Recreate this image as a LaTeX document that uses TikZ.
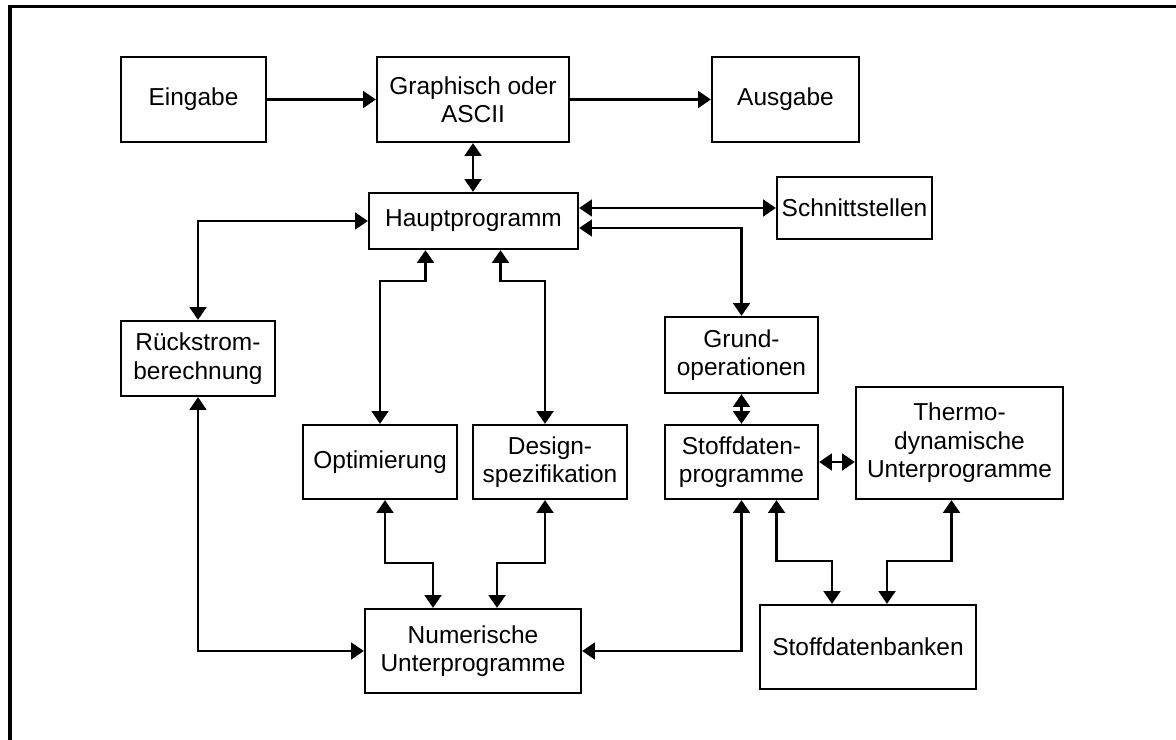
\documentclass[tikz,border=0pt]{standalone}
\usepackage{fontspec}
\setmainfont{Liberation Sans}
\usepackage{tikz}
\usetikzlibrary{positioning,calc,arrows.meta}

\begin{document}
\begin{tikzpicture}[x=0.025cm, y=-0.025cm,
    box/.style={draw, line width=1.6pt, align=center, inner sep=0pt,
      font=\fontsize{17.4}{20.2}\selectfont},
    link/.style={line width=1.8pt,
      {Triangle[length=3.2mm,width=4.2mm]}-{Triangle[length=3.2mm,width=4.2mm]}},
    onelink/.style={line width=1.8pt, -{Triangle[length=3.2mm,width=4.2mm]}}]
    \useasboundingbox (0,0) rectangle (1176,740);
    \draw[line width=2.2pt] (10,745) -- (10,6.7) -- (1181,6.7);

    \node[box, minimum width=3.625cm, minimum height=2.125cm] (eingabe) at (193.5,99.5) {Eingabe};
    \node[box, minimum width=4.8cm, minimum height=2.125cm] (graphisch) at (473,99.5) {Graphisch oder\\ASCII};
    \node[box, minimum width=3.675cm, minimum height=2.125cm] (ausgabe) at (785.5,99.5) {Ausgabe};
    \node[box, minimum width=5.225cm, minimum height=1.4cm] (haupt) at (473.5,221) {Hauptprogramm};
    \node[box, minimum width=3.875cm, minimum height=1.55cm] (schnitt) at (854.5,208) {Schnittstellen};
    \node[box, minimum width=3.85cm, minimum height=1.875cm] (rueck) at (198,358.5) {Rückstrom-\\berechnung};
    \node[box, minimum width=3.825cm, minimum height=1.9cm] (grund) at (741.5,355) {Grund-\\operationen};
    \node[box, minimum width=3.85cm, minimum height=1.85cm] (opt) at (380,462) {Optimierung};
    \node[box, minimum width=3.85cm, minimum height=1.85cm] (design) at (550,462) {Design-\\spezifikation};
    \node[box, minimum width=3.825cm, minimum height=1.85cm] (stoff) at (741.5,462) {Stoffdaten-\\programme};
    \node[box, minimum width=5.175cm, minimum height=2.8cm] (thermo) at (959.5,443) {Thermo-\\dynamische\\Unterprogramme};
    \node[box, minimum width=5.4cm, minimum height=2.1cm] (numer) at (473,651) {Numerische\\Unterprogramme};
    \node[box, minimum width=5.4cm, minimum height=2.1cm] (banken) at (868,647) {Stoffdatenbanken};

    \draw[onelink] (eingabe) -- (graphisch);
    \draw[onelink] (graphisch) -- (ausgabe);
    \draw[link] (graphisch.south) -- (graphisch.south |- haupt.north);
    \draw[link] (haupt.east |- schnitt.west) -- (schnitt.west);
    \draw[link] ($(haupt.east)+(0,7)$) -| (grund.north);
    \draw[link] (rueck.north) |- (haupt.west);
    \draw[link] ($(haupt.south)+(-48,0)$) -- ++(0,31) -| (opt.north);
    \draw[link] ($(haupt.south)+(27,0)$) -- ++(0,31) -| ($(design.north)+(-5,0)$);
    \draw[link] ($(opt.south)+(5,0)$) -- ++(0,63) -| ($(numer.north)+(-40,0)$);
    \draw[link] ($(design.south)+(-5,0)$) -- ++(0,63) -| ($(numer.north)+(24,0)$);
    \draw[link] (rueck.south) |- (numer.west);
    \draw[link] (stoff.south) |- (numer.east);
    \draw[link] (grund.south) -- (stoff.north);
    \draw[link] (stoff.east) -- (stoff.east -| thermo.west);
    \draw[link] ($(stoff.south)+(35,0)$) -- ++(0,61) -| ($(banken.north)+(-36,0)$);
    \draw[link] ($(thermo.south)+(-8,0)$) -- ++(0,61) -| ($(banken.north)+(19,0)$);
  \end{tikzpicture}
\end{document}
